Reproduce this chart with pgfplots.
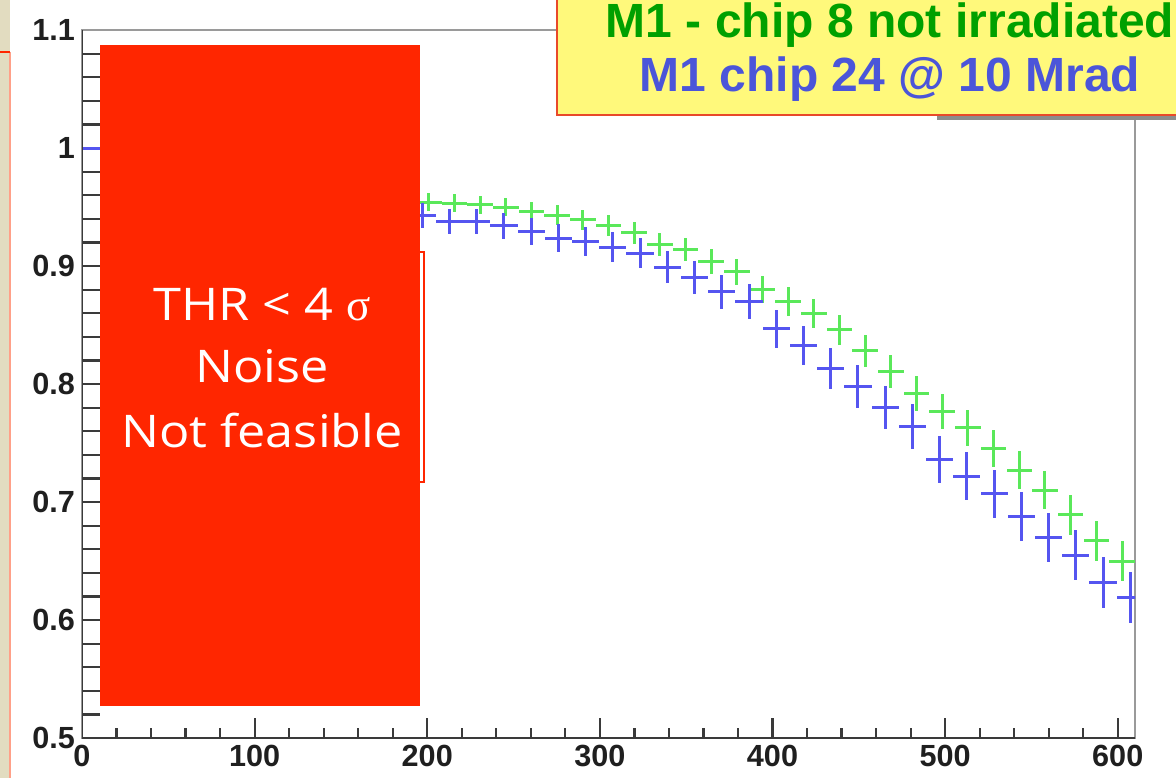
\documentclass[border=0pt]{standalone}
\usepackage{fontspec}
\setmainfont{Liberation Sans}
\newfontfamily\comicfont[FakeStretch=1.12]{Open Sans}
\newfontfamily\greekfont{Liberation Serif}
\usepackage{pgfplots}
\pgfplotsset{compat=1.18}
\usepackage{pgfplotstable}
\definecolor{redfill}{HTML}{FF2600}
\definecolor{legfill}{HTML}{FFF97B}
\definecolor{legborder}{HTML}{E84A2A}
\definecolor{legGreen}{HTML}{00A000}
\definecolor{legBlue}{HTML}{4B55D9}
\definecolor{beige}{HTML}{E2DCC0}
\definecolor{salmon}{HTML}{FFA088}
\definecolor{axisdark}{HTML}{3A3A3A}
\definecolor{framegray}{HTML}{9A9A9A}
\definecolor{gbar}{RGB}{90,232,90}
\definecolor{bbar}{RGB}{85,85,240}

% chip 8, not irradiated (bin width 14.88)
\pgfplotstableread{
x      y      e
7.44   1.000  0.0
200.9  0.954  0.0075
215.7  0.953  0.0076
230.6  0.952  0.0077
245.5  0.950  0.0078
260.4  0.946  0.0081
275.2  0.943  0.0083
290.1  0.939  0.0086
305.0  0.934  0.0089
319.9  0.928  0.0093
334.7  0.918  0.0098
349.6  0.914  0.0100
364.5  0.904  0.0105
379.3  0.895  0.0110
394.2  0.880  0.0116
409.1  0.870  0.0120
424.0  0.860  0.0124
438.8  0.846  0.0129
453.7  0.828  0.0135
468.6  0.811  0.0140
483.5  0.792  0.0145
498.3  0.777  0.0149
513.2  0.763  0.0152
528.1  0.745  0.0156
543.0  0.727  0.0160
557.8  0.710  0.0162
572.7  0.689  0.0166
587.6  0.667  0.0169
602.5  0.650  0.0171
}\greendata

% chip 24 @ 10 Mrad (bin width 15.77)
\pgfplotstableread{
x      y      e
7.885  1.000  0.0
197.1  0.943  0.0104
212.9  0.9375 0.0108
228.7  0.9375 0.0108
244.4  0.934  0.0111
260.2  0.929  0.0115
276.0  0.9235 0.0119
291.8  0.921  0.0121
307.5  0.916  0.0124
323.3  0.911  0.0127
339.1  0.899  0.0135
354.9  0.890  0.0140
370.6  0.878  0.0146
386.4  0.870  0.0150
402.2  0.847  0.0161
418.0  0.8325 0.0167
433.7  0.813  0.0174
449.5  0.798  0.0180
465.3  0.780  0.0185
481.1  0.764  0.0190
496.8  0.736  0.0197
512.6  0.722  0.0200
528.4  0.707  0.0204
544.2  0.6875 0.0207
559.9  0.670  0.0210
575.7  0.655  0.0213
591.5  0.632  0.0216
607.3  0.619  0.0217
}\bluedata

\begin{document}
\begin{tikzpicture}
\path[use as bounding box] (-41pt,-20pt) rectangle (547pt,369pt);
\clip (-41pt,-20pt) rectangle (547pt,369pt);
\fill[white] (-41pt,-20pt) rectangle (547pt,369pt);
% slide remnants on the left
\fill[beige] (-41pt,-20pt) rectangle (-36pt,369pt);
\draw[salmon, line width=1.2pt] (-36pt,343pt) -- (-36pt,-20pt);
\draw[redfill, line width=1.2pt] (-41pt,343pt) -- (-36pt,343pt);

\begin{axis}[
  scale only axis,
  width=526.5pt, height=354pt,
  xmin=0, xmax=610, ymin=0.5, ymax=1.1,
  axis line style={framegray, line width=1.4pt},
  tick pos=left, tick align=inside,
  xtick={0,100,...,600},
  xticklabels={0,100,200,300,400,500,600},
  ytick={0.5,0.6,0.7,0.8,0.9,1.0,1.1},
  yticklabels={0.5,0.6,0.7,0.8,0.9,1,1.1},
  minor x tick num=4, minor y tick num=4,
  major tick length=10pt, minor tick length=5pt,
  ytick style={/pgfplots/major tick length=18pt, /pgfplots/minor tick length=9pt},
  tick style={axisdark, line width=1.1pt},
  tick label style={font=\fontsize{15.3}{18}\selectfont\bfseries, text=black!88},
  /pgf/number format/assume math mode=true,
]
\addplot[draw=none, mark=none,
  error bars/.cd, x dir=both, x fixed=7.44, y dir=both, y explicit,
  error mark=none, error bar style={draw=gbar, line width=1.5pt}]
  table[x=x, y=y, y error=e] {\greendata};
\addplot[draw=none, mark=none,
  error bars/.cd, x dir=both, x fixed=7.885, y dir=both, y explicit,
  error mark=none, error bar style={draw=bbar, line width=1.5pt}]
  table[x=x, y=y, y error=e] {\bluedata};
\draw[axisdark, line width=1.4pt] (rel axis cs:0,1) -- (rel axis cs:0,0) -- (rel axis cs:1,0);
\draw[redfill, line width=0.8pt] (axis cs:126,0.9119) rectangle (axis cs:198.1,0.717);
\fill[redfill] (axis cs:10.4,0.5271) rectangle (axis cs:195.8,1.0873);
\end{axis}

\node[anchor=base, text=white, font=\comicfont\fontsize{22.5}{26}\selectfont] at (90pt,209pt) {THR < 4 {\greekfont σ}};
\node[anchor=base, text=white, font=\comicfont\fontsize{22.5}{26}\selectfont] at (90pt,178pt) {Noise};
\node[anchor=base, text=white, font=\comicfont\fontsize{22.5}{26}\selectfont] at (90pt,145.5pt) {Not feasible};

% legend box
\draw[black!45, line width=1.6pt] (427.5pt,310pt) -- (560pt,310pt);
\filldraw[fill=legfill, draw=legborder, line width=1.2pt] (237.5pt,311.5pt) rectangle (560pt,380pt);
\node[anchor=base, text=legGreen, font=\fontsize{24}{28}\selectfont\bfseries] at (404pt,350pt) {M1 - chip 8 not irradiated};
\node[anchor=base, text=legBlue, font=\fontsize{24}{28}\selectfont\bfseries] at (404pt,323pt) {M1 chip 24 @ 10 Mrad};
\end{tikzpicture}
\end{document}
